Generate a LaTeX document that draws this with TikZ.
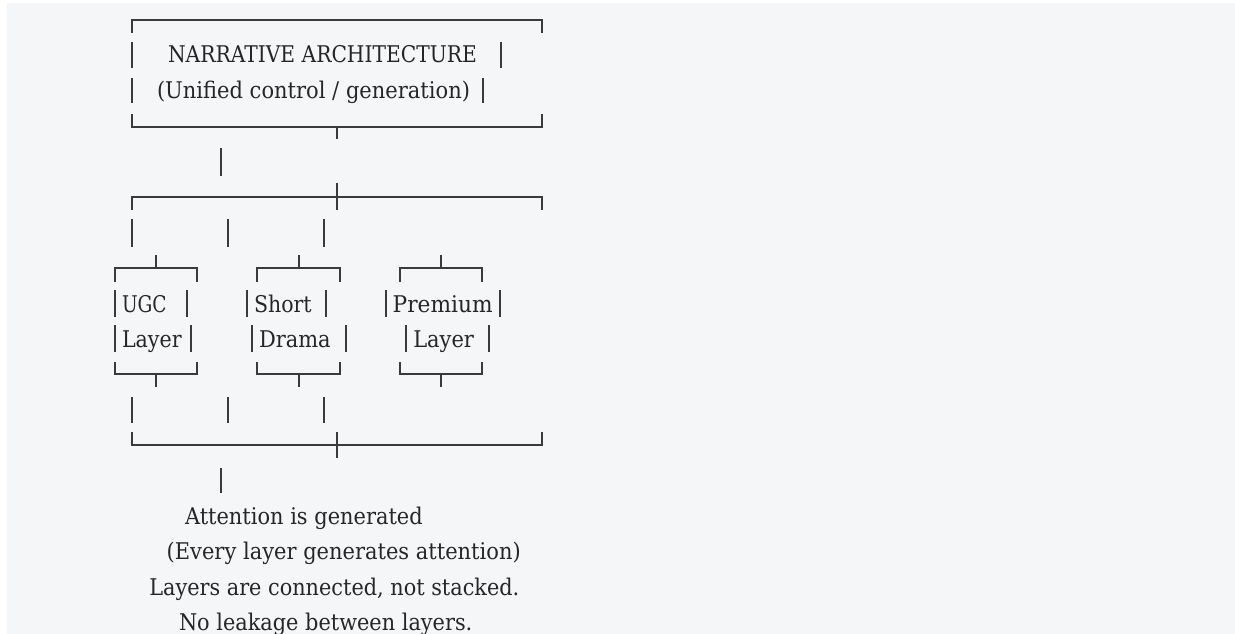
\documentclass[tikz,border=0pt]{standalone}
\usepackage{fontspec}
\setmainfont{DejaVu Serif}
\usepackage{graphicx}
\definecolor{bgpanel}{HTML}{F5F6F8}
\definecolor{inkline}{HTML}{3A3A3A}
\definecolor{inktext}{HTML}{262626}
\newcommand{\fitto}[2]{\resizebox{#1pt}{\height}{#2}}
\tikzset{
  lbl/.style={inner sep=0pt, outer sep=0pt, anchor=base west, text=inktext, font=\fontsize{23}{27}\selectfont},
  rule/.style={draw=inkline, line width=2pt, line cap=butt}
}
\begin{document}
\begin{tikzpicture}[x=1pt,y=-1pt]
\useasboundingbox (0,0) rectangle (1235,634);
\fill[white] (0,0) rectangle (1235,634);
\fill[bgpanel] (7,3) rectangle (1235,634);

% ---- main box
\draw[rule] (132,33) -- (132,20.5) -- (541.5,20.5) -- (541.5,33);
\draw[rule] (132,42) -- (132,68);
\draw[rule] (132,78) -- (132,103);
\draw[rule] (501,42) -- (501,68);
\draw[rule] (483,78) -- (483,103);
\draw[rule] (132,114) -- (132,127) -- (541.5,127) -- (541.5,114);
\draw[rule] (337,127) -- (337,139);
\node[lbl] (title) at (168,63) {\fitto{309}{NARRATIVE ARCHITECTURE}};
\node[lbl] (subtitle) at (157,99) {\fitto{313}{(Unified control / generation)}};

% ---- upper distribution
\draw[rule] (221,148) -- (221,176);
\draw[rule] (132,210) -- (132,197) -- (541.5,197) -- (541.5,210);
\draw[rule] (337,183) -- (337,210);
\foreach \x in {132,228,324} \draw[rule] (\x,219) -- (\x,247);

% ---- layer boxes (top, bottom)
\foreach \a/\b/\c in {114.5/196.5/155.5, 256.5/339.5/298.5, 399.5/482/441} {
  \draw[rule] (\c,255) -- (\c,268);
  \draw[rule] (\a,282) -- (\a,268) -- (\b,268) -- (\b,282);
  \draw[rule] (\a,362) -- (\a,374) -- (\b,374) -- (\b,362);
  \draw[rule] (\c,374) -- (\c,387);
}
% row bars
\foreach \x in {114.5,186.5,246.5,325.5,385.5,500} \draw[rule] (\x,290) -- (\x,317);
\foreach \x in {114.5,190.5,251.5,345.5,406,488.5} \draw[rule] (\x,325) -- (\x,352);

\node[lbl] (ugc1) at (122,312) {\fitto{44.7}{UGC}};
\node[lbl] (ugc2) at (122,347) {\fitto{59.7}{Layer}};
\node[lbl] (sd1) at (254,312) {\fitto{57.7}{Short}};
\node[lbl] (sd2) at (259,347) {\fitto{71.7}{Drama}};
\node[lbl] (pr1) at (392.7,312) {\fitto{100}{Premium}};
\node[lbl] (pr2) at (413.3,347) {\fitto{60.7}{Layer}};

% ---- lower collection
\foreach \x in {132,228,324} \draw[rule] (\x,397) -- (\x,423);
\draw[rule] (132,432) -- (132,445) -- (541.5,445) -- (541.5,432);
\draw[rule] (337,432) -- (337,458);
\draw[rule] (221,468) -- (221,493);

\node[lbl] (att) at (185,524) {\fitto{237.7}{Attention is generated}};
\node[lbl] (every) at (166.7,559.5) {\fitto{354}{(Every layer generates attention)}};
\node[lbl] (conn) at (149.3,595) {\fitto{370}{Layers are connected, not stacked.}};
\node[lbl] (leak) at (179,630) {\fitto{293.3}{No leakage between layers.}};
\end{tikzpicture}
\end{document}
